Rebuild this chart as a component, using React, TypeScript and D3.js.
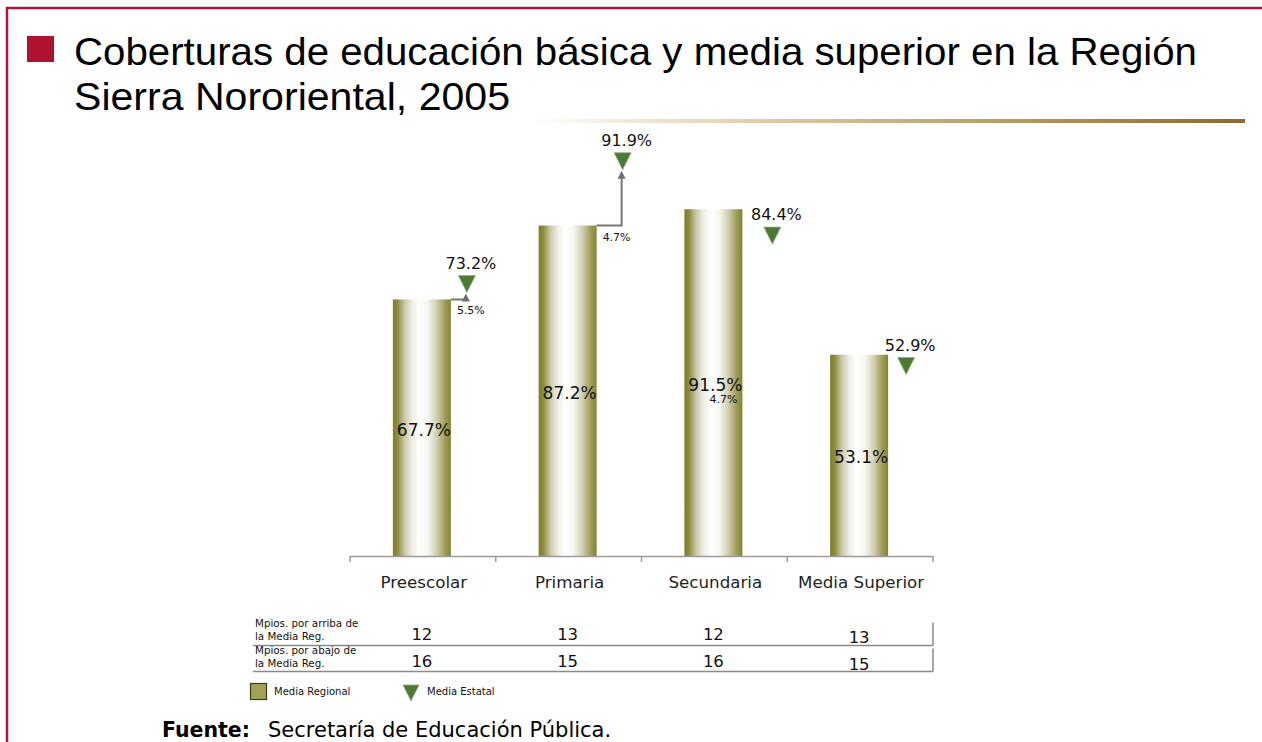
import React from "react";
import * as d3 from "d3";

const categories = ["Preescolar", "Primaria", "Secundaria", "Media Superior"];
const mediaRegional = [67.7, 87.2, 91.5, 53.1];
const mediaEstatal = [73.2, 91.9, 84.4, 52.9];
const diffLabels = ["5.5%", "4.7%", "4.7%", ""];
const mpiosArriba = [12, 13, 12, 13];
const mpiosAbajo = [16, 15, 16, 15];
const tableRowLabels = [
  ["Mpios. por arriba de", "la Media Reg."],
  ["Mpios. por abajo de", "la Media Reg."],
];

// layout constants (not data)
const W = 1262;
const H = 742;
const FONT = "'DejaVu Sans', Verdana, sans-serif";
const markerDx = [45, 55, 59, 47];
const markerDy = [-3, -55, -9, 2];
const diffMode = ["side-arrow", "side-arrow", "inside", "none"];

export default function App() {
  const x = d3.scaleBand<string>().domain(categories).range([350, 933]).paddingInner(0).paddingOuter(0);
  const y = d3.scaleLinear().domain([0, 100]).range([556, 177]);
  const barW = 58;
  const triW = 17;
  const triH = 17;
  const green = "#4b7a33";

  const ticks = [350, ...categories.map((c) => (x(c) as number) + x.bandwidth())];

  return (
    <svg
      width={W}
      height={H}
      style={{ position: "absolute", left: 0, top: 0, background: "#fff" }}
      fontFamily={FONT}
    >
      <defs>
        <linearGradient id="barGrad" x1="0" x2="1" y1="0" y2="0">
          <stop offset="0" stopColor="#7f7c28" />
          <stop offset="0.08" stopColor="#8e8c3e" />
          <stop offset="0.2" stopColor="#c9c8a8" />
          <stop offset="0.33" stopColor="#eeeee4" />
          <stop offset="0.45" stopColor="#ffffff" />
          <stop offset="0.6" stopColor="#f7f7f1" />
          <stop offset="0.75" stopColor="#d2d1b6" />
          <stop offset="0.9" stopColor="#9e9c58" />
          <stop offset="1" stopColor="#86842f" />
        </linearGradient>
        <linearGradient id="ruleGrad" x1="0" x2="1" y1="0" y2="0">
          <stop offset="0" stopColor="#ffffff" />
          <stop offset="0.35" stopColor="#dcc9a0" />
          <stop offset="1" stopColor="#8b6b2a" />
        </linearGradient>
        <marker id="arrowUp" viewBox="0 0 10 10" refX="5" refY="5" markerWidth="4" markerHeight="4" orient="auto">
          <path d="M0,0 L10,5 L0,10 z" fill="#6f6f6f" />
        </marker>
      </defs>

      {/* frame */}
      <line x1={6} x2={W} y1={8} y2={8} stroke="#b0163a" strokeWidth={2.5} />
      <line x1={7} x2={7} y1={7} y2={H} stroke="#b0163a" strokeWidth={2.5} />

      {/* title */}
      <rect x={27} y={36} width={27} height={26} fill="#ae122e" />
      <text x={74} y={65} fontSize={39} fontFamily="'Liberation Sans', Arial, sans-serif" textLength={1123} lengthAdjust="spacingAndGlyphs" fill="#000">
        Coberturas de educación básica y media superior en la Región
      </text>
      <text x={74} y={110} fontSize={39} fontFamily="'Liberation Sans', Arial, sans-serif" textLength={436} lengthAdjust="spacingAndGlyphs" fill="#000">
        Sierra Nororiental, 2005
      </text>
      <rect x={530} y={119} width={715} height={4} fill="url(#ruleGrad)" />

      {/* bars */}
      {categories.map((c, i) => {
        const cx = (x(c) as number) + x.bandwidth() / 2 - 1;
        const top = y(mediaRegional[i]);
        return (
          <g key={c}>
            <rect x={cx - barW / 2} y={top} width={barW} height={y(0) - top} fill="url(#barGrad)" />
            <text x={cx + 2} y={(top + y(0)) / 2 + 8} fontSize={17} textAnchor="middle" fill="#111">
              {d3.format(".1f")(mediaRegional[i])}%
            </text>
          </g>
        );
      })}

      {/* axis */}
      <line x1={350} x2={933} y1={556.5} y2={556.5} stroke="#9a9a9a" strokeWidth={1.5} />
      {ticks.map((t, i) => (
        <line key={i} x1={t} x2={t} y1={556} y2={562} stroke="#9a9a9a" strokeWidth={1.5} />
      ))}
      {categories.map((c) => (
        <text key={c} x={(x(c) as number) + x.bandwidth() / 2 + 1} y={588} fontSize={16.7} textAnchor="middle" fill="#222">
          {c}
        </text>
      ))}

      {/* estatal markers, arrows, diff labels */}
      {categories.map((c, i) => {
        const bc = (x(c) as number) + x.bandwidth() / 2 - 1;
        const right = bc + barW / 2;
        const top = y(mediaRegional[i]);
        const mx = bc + markerDx[i];
        const mTop = y(mediaEstatal[i]) + markerDy[i];
        const tri = `M${mx - triW / 2},${mTop} L${mx + triW / 2},${mTop} L${mx},${mTop + triH} Z`;
        return (
          <g key={c}>
            {diffMode[i] === "side-arrow" && (
              <>
                <path
                  d={`M${right},${top} H${mx - 1} V${mTop + triH + 5}`}
                  fill="none"
                  stroke="#777"
                  strokeWidth={2}
                  markerEnd="url(#arrowUp)"
                />
                <text x={right + 6} y={top + 15} fontSize={11} fill="#111">
                  {diffLabels[i]}
                </text>
              </>
            )}
            {diffMode[i] === "inside" && (
              <text x={bc + 10} y={(top + y(0)) / 2 + 20} fontSize={11} textAnchor="middle" fill="#111">
                {diffLabels[i]}
              </text>
            )}
            <path d={tri} fill={green} stroke="#9aa890" strokeWidth={0.8} />
            <text x={mx + 4} y={mTop - 7} fontSize={16} textAnchor="middle" fill="#111">
              {d3.format(".1f")(mediaEstatal[i])}%
            </text>
          </g>
        );
      })}

      {/* table */}
      {[mpiosArriba, mpiosAbajo].map((row, r) => {
        const base = r === 0 ? 640 : 667;
        const lineY = r === 0 ? 645.5 : 671.5;
        return (
          <g key={r}>
            <text x={255} y={base - 13} fontSize={10.3} fill="#111">
              {tableRowLabels[r][0]}
            </text>
            <text x={255} y={base} fontSize={10.3} fill="#111">
              {tableRowLabels[r][1]}
            </text>
            <line x1={253} x2={933} y1={lineY} y2={lineY} stroke="#8a8a8a" strokeWidth={1.5} />
            <line x1={933} x2={933} y1={lineY - 23} y2={lineY} stroke="#8a8a8a" strokeWidth={1.5} />
            {row.map((v, i) => (
              <text
                key={i}
                x={(x(categories[i]) as number) + x.bandwidth() / 2 - 1}
                y={base + (i === 3 ? 3 : 0)}
                fontSize={16.5}
                textAnchor="middle"
                fill="#111"
              >
                {v}
              </text>
            ))}
          </g>
        );
      })}

      {/* legend */}
      <rect x={250.5} y={683.5} width={16} height={16} fill="#a3a25a" stroke="#3c3c12" strokeWidth={1.2} />
      <text x={274} y={695} fontSize={10} fill="#111">
        Media Regional
      </text>
      <path d="M403,685 L419,685 L411,701 Z" fill={green} stroke="#9aa890" strokeWidth={0.8} />
      <text x={427} y={695} fontSize={10} fill="#111">
        Media Estatal
      </text>

      {/* source */}
      <text x={162} y={737} fontSize={21} fill="#000">
        <tspan fontWeight="bold" fontSize={20.5}>Fuente:</tspan>
        <tspan x={268}>Secretaría de Educación Pública.</tspan>
      </text>
    </svg>
  );
}
